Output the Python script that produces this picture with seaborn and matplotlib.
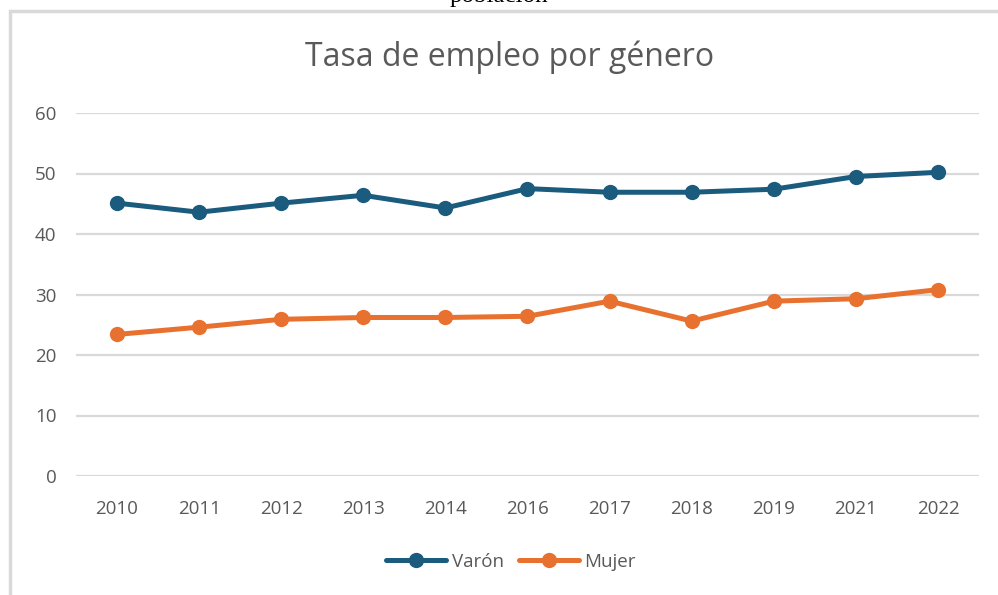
import pandas as pd
import matplotlib.pyplot as plt
import seaborn as sns
from matplotlib.patches import Rectangle

# Data
years = ['2010', '2011', '2012', '2013', '2014', '2016', '2017', '2018', '2019', '2021', '2022']
varon = [45.1, 43.6, 45.1, 46.4, 44.3, 47.5, 46.9, 46.9, 47.4, 49.5, 50.2]
mujer = [23.4, 24.6, 25.9, 26.2, 26.2, 26.4, 28.9, 25.6, 28.9, 29.3, 30.8]
series_names = ['Varón', 'Mujer']
colors = ['#1B5B7E', '#E8712F']

# Build a long-form table for seaborn
df = pd.DataFrame({
    'year': years * 2,
    'value': varon + mujer,
    'serie': [series_names[0]] * len(years) + [series_names[1]] * len(years),
})

sns.set_style('white')
plt.rcParams['font.family'] = ['Open Sans', 'DejaVu Sans']
text_color = '#595959'
grid_color = '#D9D9D9'

fig = plt.figure(figsize=(9.98, 5.95), dpi=100)
ax = fig.add_axes([76 / 998, 1 - 476 / 595, (979 - 76) / 998, (476 - 113) / 595])

sns.lineplot(data=df, x='year', y='value', hue='serie', palette=colors,
             marker='o', markersize=11, markeredgewidth=0, linewidth=3.6,
             sort=False, ax=ax, legend=False)

ax.set_xlim(-0.5, len(years) - 0.5)
ax.set_ylim(0, 60)
ax.set_yticks(range(0, 61, 10))
ax.grid(axis='y', color=grid_color, linewidth=1.6)
ax.set_axisbelow(True)
for s in ax.spines.values():
    s.set_visible(False)
ax.tick_params(axis='both', length=0, labelsize=13.5, labelcolor=text_color)
ax.tick_params(axis='x', pad=17)
ax.tick_params(axis='y', pad=14)
ax.set_xlabel('')
ax.set_ylabel('')

fig.text(0.511, 1 - 57 / 595, 'Tasa de empleo por género', ha='center', va='center',
         fontsize=23, color=text_color)

# Legend below the chart
handles = [plt.Line2D([], [], color=c, linewidth=3.6, marker='o', markersize=11,
                      markeredgewidth=0) for c in colors]
fig.legend(handles, series_names, loc='center', bbox_to_anchor=(0.512, 1 - 562 / 595),
           ncol=2, frameon=False, handlelength=3.2, handletextpad=0.3, columnspacing=0.8,
           labelcolor=text_color, prop={'size': 13.5})

# Chart border and the page text cropped at the top, as in the source image
fig.patches.append(Rectangle((10 / 998, -0.1), 1.2, 1.1 - 11 / 595, transform=fig.transFigure,
                             fill=False, edgecolor=grid_color, linewidth=2.5))
fig.text(0.5, 1 - 7 / 595, 'población', ha='center', va='bottom', fontsize=18,
         family='Liberation Serif', color='black')

fig.savefig('out.png', dpi=100, facecolor='white')
